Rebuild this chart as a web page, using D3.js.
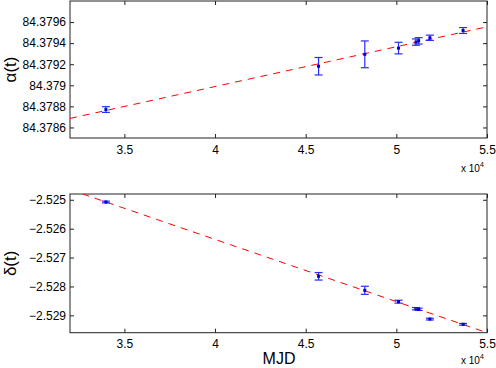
<!DOCTYPE html>
<html>
<head>
<meta charset="utf-8">
<script src="https://cdn.jsdelivr.net/npm/d3@7"></script>
<style>
  body { margin: 0; background: #fff; }
  svg { display: block; font-family: "Liberation Sans", Arial, sans-serif; }
</style>
</head>
<body>
<div id="chart"></div>
<script>
//Data
const mjd = [33980, 45710, 48260, 50120, 51080, 51230, 51850, 53680];
const alpha = [84.37877, 84.379181, 84.379294, 84.379353, 84.379410, 84.379422, 84.379451, 84.37952];
const alphaErr = [0.000027, 0.000083, 0.000127, 0.000055, 0.00003, 0.00003, 0.000025, 0.000028];
const delta = [-2.525077, -2.527648, -2.528133, -2.528527, -2.52877, -2.52879, -2.529129, -2.529309];
const deltaErr = [0.00003, 0.00013, 0.00014, 0.00005, 0.00004, 0.00004, 0.00003, 0.00003];

//Fitted line end points
const fitMjd = [32000, 55000];
const fitAlpha = [84.378686, 84.379555];
const fitDelta = [-2.52465, -2.5296];

//Tick values
const xTicks = [35000, 40000, 45000, 50000, 55000];
const alphaTicks = [84.3786, 84.3788, 84.379, 84.3792, 84.3794, 84.3796];
const deltaTicks = [-2.529, -2.528, -2.527, -2.526, -2.525];

const width = 496;
const height = 368;
const left = 70, right = 487;

const svg = d3.select("#chart").append("svg")
    .attr("width", width)
    .attr("height", height);

const x = d3.scaleLinear().domain([32000, 55000]).range([left, right]);

function panel(id, top, bottom, yDomain, values, errs, fitY, ticks, fmt, label, multY) {
    const y = d3.scaleLinear().domain(yDomain).range([bottom, top]);
    const g = svg.append("g");

    g.append("clipPath").attr("id", id)
        .append("rect")
        .attr("x", left).attr("y", top)
        .attr("width", right - left).attr("height", bottom - top);

    //axes with inward ticks
    const xAxis = d3.axisBottom(x).tickValues(xTicks).tickSize(-4).tickPadding(7)
        .tickFormat(d => d3.format("")(d / 1e4));
    g.append("g").attr("transform", `translate(0,${bottom})`).call(xAxis);
    g.append("g").attr("transform", `translate(0,${top})`)
        .call(d3.axisTop(x).tickValues(xTicks).tickSize(-4).tickFormat(""));
    g.append("g").attr("transform", `translate(${left},0)`)
        .call(d3.axisLeft(y).tickValues(ticks).tickSize(-4).tickPadding(4).tickFormat(fmt));
    g.append("g").attr("transform", `translate(${right},0)`)
        .call(d3.axisRight(y).tickValues(ticks).tickSize(-4).tickFormat(""));

    g.selectAll(".domain").remove();
    g.selectAll(".tick line").attr("stroke", "#222");
    g.selectAll(".tick text").attr("font-size", 12).attr("fill", "#000")
        .attr("font-family", "'Liberation Sans', Arial, sans-serif");

    g.append("rect")
        .attr("x", left).attr("y", top)
        .attr("width", right - left).attr("height", bottom - top)
        .attr("fill", "none").attr("stroke", "#222").attr("stroke-width", 1);

    //fit line
    g.append("path")
        .attr("clip-path", `url(#${id})`)
        .attr("d", d3.line().x(d => x(d[0])).y(d => y(d[1]))(d3.zip(fitMjd, fitY)))
        .attr("fill", "none")
        .attr("stroke", "#ff0000")
        .attr("stroke-width", 1)
        .attr("stroke-dasharray", "7,6");

    //error bars
    const pts = g.append("g").selectAll("g")
        .data(d3.range(mjd.length))
        .join("g");
    pts.append("line")
        .attr("x1", i => x(mjd[i])).attr("x2", i => x(mjd[i]))
        .attr("y1", i => y(values[i] - errs[i])).attr("y2", i => y(values[i] + errs[i]))
        .attr("stroke", "#2b2bff").attr("stroke-width", 1.2);
    [-1, 1].forEach(s => {
        pts.append("line")
            .attr("x1", i => x(mjd[i]) - 4).attr("x2", i => x(mjd[i]) + 4)
            .attr("y1", i => y(values[i] + s * errs[i])).attr("y2", i => y(values[i] + s * errs[i]))
            .attr("stroke", "#2b2bff").attr("stroke-width", 1.2);
    });
    pts.append("rect")
        .attr("x", i => x(mjd[i]) - 1.5).attr("y", i => y(values[i]) - 1.5)
        .attr("width", 3).attr("height", 3)
        .attr("fill", "#0000cc");

    //y label
    g.append("text")
        .attr("transform", `translate(16,${(top + bottom) / 2}) rotate(-90)`)
        .attr("text-anchor", "middle")
        .attr("font-size", 17)
        .text(label);

    //x 10^4 multiplier
    const mult = g.append("text")
        .attr("x", 461).attr("y", multY)
        .attr("font-size", 10);
    mult.append("tspan").text("x 10");
    mult.append("tspan").attr("dy", -5).attr("font-size", 7).text("4");
}

panel("clipA", 1, 138, [84.3785, 84.3798], alpha, alphaErr, fitAlpha, alphaTicks,
    d => String(+d.toFixed(4)), "α(t)", 172);
panel("clipD", 194, 332.7, [-2.5296, -2.5248], delta, deltaErr, fitDelta, deltaTicks,
    d3.format(".3f"), "δ(t)", 364);

//x label
svg.append("text")
    .attr("x", 279).attr("y", 364)
    .attr("text-anchor", "middle")
    .attr("font-size", 16)
    .text("MJD");
</script>
</body>
</html>
